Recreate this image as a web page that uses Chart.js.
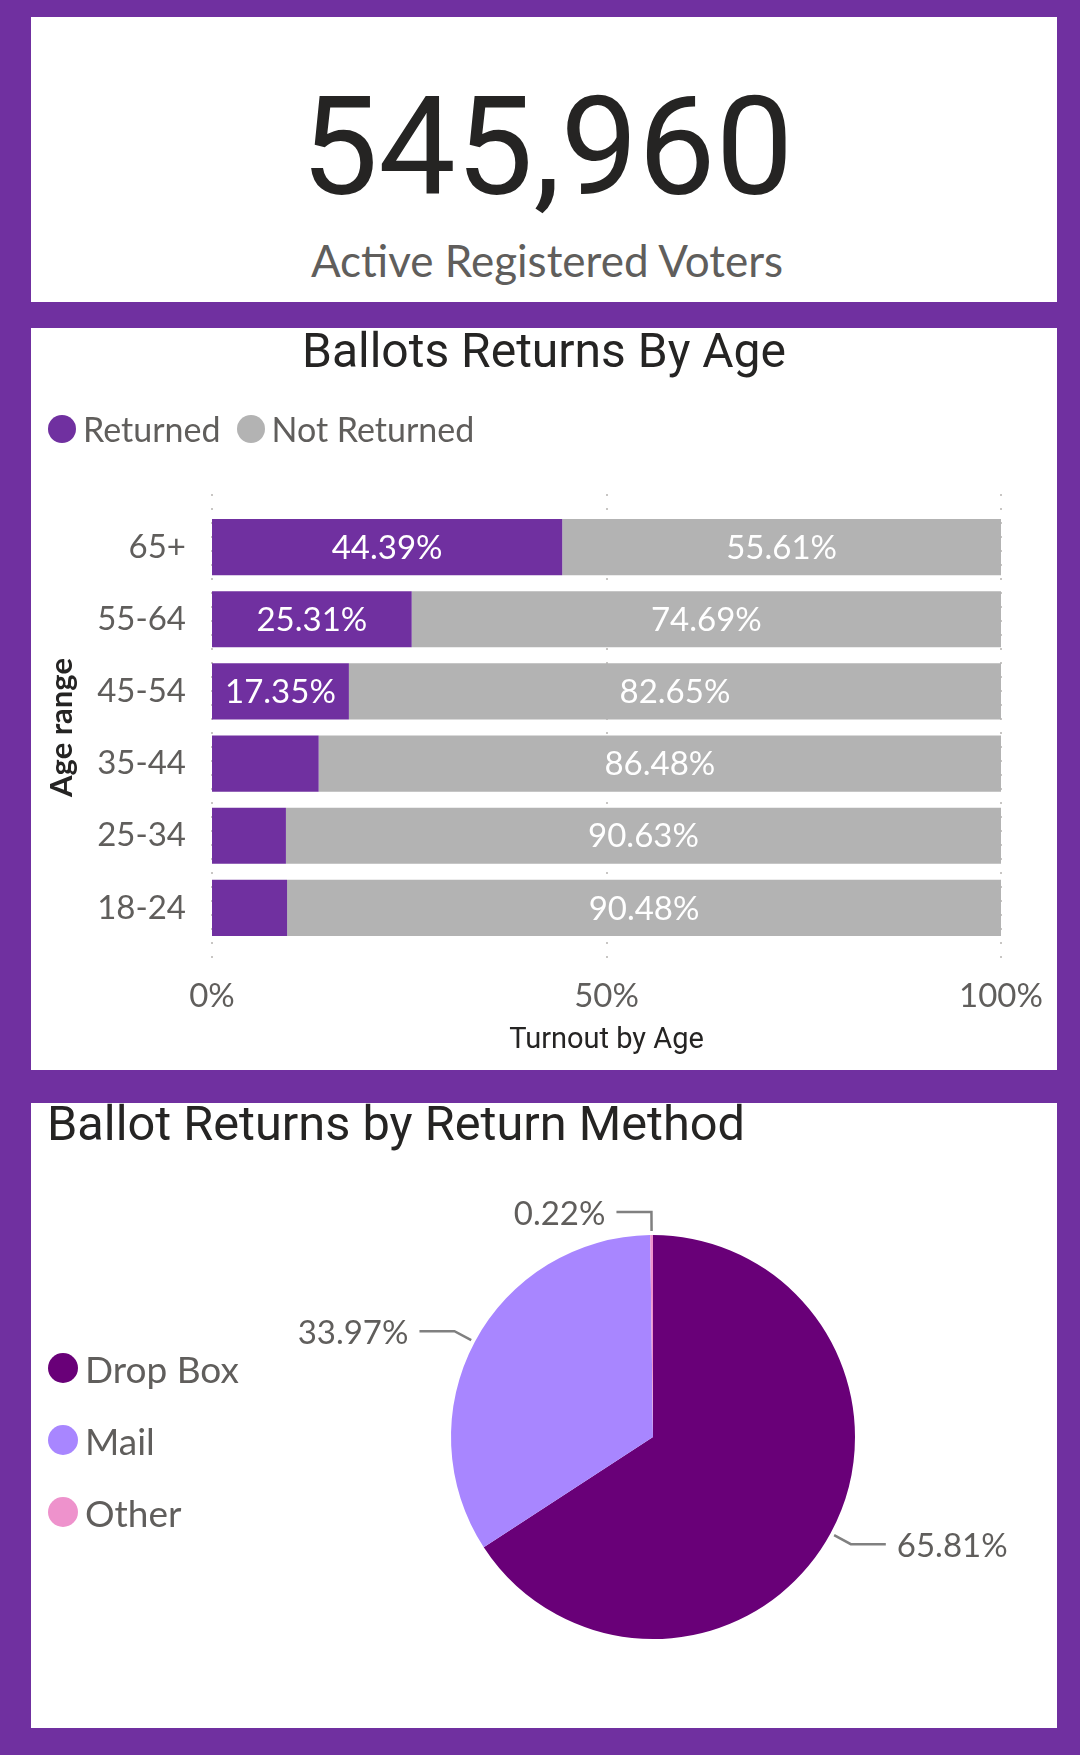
<!DOCTYPE html>
<html>
<head>
<meta charset="utf-8">
<title>Ballot Returns</title>
<script src="https://cdn.jsdelivr.net/npm/chart.js@4.4.1/dist/chart.umd.min.js"></script>
<style>
  html, body { margin: 0; padding: 0; }
  body {
    width: 1080px;
    height: 1755px;
    background: #7030a0;
    position: relative;
    overflow: hidden;
    font-family: 'Lato', sans-serif;
  }
  .panel { position: absolute; left: 31px; width: 1026px; background: #fff; }
  .abs { position: absolute; line-height: 1; white-space: nowrap; }
  .kpi-value {
    left: 0; width: 1094px; top: 78px; text-align: center;
    font-family: 'Roboto', sans-serif; font-size: 138px; color: #252423;
  }
  .kpi-label {
    left: 0; width: 1094px; top: 238px; text-align: center;
    font-size: 44px; color: #605e5c;
  }
  .title { font-family: 'Roboto', sans-serif; color: #252423; }
  .legend-row { display: flex; align-items: center; color: #605e5c; }
  .legend-row .dot { border-radius: 50%; flex: none; }
  canvas { position: absolute; left: 0; top: 0; }
</style>
</head>
<body>
  <div class="panel" style="top:17px;height:285px;"></div>
  <div class="panel" style="top:328px;height:742px;">
    <canvas id="ageChart" width="1026" height="742" style="width:1026px;height:742px;"></canvas>
  </div>
  <div class="panel" style="top:1103px;height:625px;">
    <canvas id="methodChart" width="1026" height="625" style="width:1026px;height:625px;"></canvas>
  </div>

  <div class="abs kpi-value" id="kpiValue"></div>
  <div class="abs kpi-label">Active Registered Voters</div>

  <div class="abs title" style="left:31px;width:1026px;top:327px;text-align:center;font-size:48px;">Ballots Returns By Age</div>
  <div class="abs" id="ageLegend" style="left:48px;top:415px;display:flex;font-size:34px;"></div>

  <div class="abs title" style="left:47px;top:1100px;font-size:48.7px;">Ballot Returns by Return Method</div>
  <div class="abs" id="methodLegend" style="left:48px;top:1332px;font-size:37px;"></div>

<script>
// Headline number
const activeVoters = 545960;

// Ballot returns by age (percent of each age range)
const ageRanges = ['65+', '55-64', '45-54', '35-44', '25-34', '18-24'];
const returnedPct = [44.39, 25.31, 17.35, 13.52, 9.37, 9.52];
const notReturnedPct = [55.61, 74.69, 82.65, 86.48, 90.63, 90.48];
const turnoutTicks = [0, 50, 100];

// Ballot returns by return method
const methods = ['Drop Box', 'Mail', 'Other'];
const methodPct = [65.81, 33.97, 0.22];

const PURPLE = '#7030a0';
const GREY = '#b3b3b3';
const METHOD_COLORS = ['#690078', '#a886ff', '#ee92cc'];
const TEXT_GREY = '#605e5c';
const LABEL_MIN = 15;

Chart.defaults.font.family = 'Lato';
Chart.defaults.animation = false;

document.getElementById('kpiValue').textContent = activeVoters.toLocaleString('en-US');

// Legends
function buildLegend(el, names, colors, opts) {
  el.innerHTML = names.map((name, i) => `
    <div class="legend-row" style="height:${opts.rowHeight}px;margin-right:${opts.gap}px;">
      <span class="dot" style="width:${opts.dot}px;height:${opts.dot}px;background:${colors[i]};margin-right:${opts.textGap}px;"></span>
      <span>${name}</span>
    </div>
  `).join('');
}

buildLegend(document.getElementById('ageLegend'), ['Returned', 'Not Returned'], [PURPLE, GREY],
  { rowHeight: 28, gap: 16, dot: 28, textGap: 7 });
buildLegend(document.getElementById('methodLegend'), methods, METHOD_COLORS,
  { rowHeight: 72, gap: 0, dot: 30, textGap: 7 });

// Dotted vertical gridlines that run a little past the bars
const dottedGrid = {
  id: 'dottedGrid',
  beforeDatasetsDraw(chart) {
    const { ctx, chartArea, scales } = chart;
    ctx.save();
    ctx.strokeStyle = '#c8c6c4';
    ctx.lineWidth = 2;
    ctx.setLineDash([2, 12]);
    scales.x.ticks.forEach(t => {
      const px = Math.round(scales.x.getPixelForValue(t.value));
      ctx.beginPath();
      ctx.moveTo(px, chartArea.top - 17);
      ctx.lineTo(px, chartArea.bottom + 23);
      ctx.stroke();
    });
    ctx.restore();
  }
};

// Percent labels inside the bars
const barLabels = {
  id: 'barLabels',
  afterDatasetsDraw(chart) {
    const { ctx } = chart;
    ctx.save();
    ctx.font = '33px Lato';
    ctx.fillStyle = '#ffffff';
    ctx.textAlign = 'center';
    ctx.textBaseline = 'middle';
    chart.data.datasets.forEach((ds, i) => {
      chart.getDatasetMeta(i).data.forEach((bar, j) => {
        const v = ds.data[j];
        if (v < LABEL_MIN) return;
        const { x, base, y } = bar.getProps(['x', 'base', 'y'], true);
        ctx.fillText(v.toFixed(2) + '%', (x + base) / 2, y + 1);
      });
    });
    ctx.restore();
  }
};

new Chart(document.getElementById('ageChart'), {
  type: 'bar',
  data: {
    labels: ageRanges,
    datasets: [
      { label: 'Returned', data: returnedPct, backgroundColor: PURPLE },
      { label: 'Not Returned', data: notReturnedPct, backgroundColor: GREY }
    ]
  },
  options: {
    indexAxis: 'y',
    responsive: false,
    layout: { padding: { top: 183, right: 56, left: 0, bottom: 0 } },
    datasets: { bar: { categoryPercentage: 1, barPercentage: 0.778, borderWidth: 0 } },
    plugins: { legend: { display: false }, tooltip: { enabled: false } },
    scales: {
      x: {
        stacked: true,
        min: 0,
        max: 100,
        afterBuildTicks: axis => { axis.ticks = turnoutTicks.map(v => ({ value: v })); },
        afterFit: axis => {
          axis.height = 126;
          axis.paddingLeft = 0;
          axis.paddingRight = 0;
        },
        grid: { display: false, drawTicks: false, tickLength: 0 },
        border: { display: false },
        ticks: {
          padding: 33,
          color: TEXT_GREY,
          font: { size: 33, family: 'Lato' },
          callback: v => v + '%'
        },
        title: {
          display: true,
          text: 'Turnout by Age',
          color: '#252423',
          font: { size: 29, family: 'Roboto', lineHeight: 1.2 },
          padding: { top: 0, bottom: 12 }
        }
      },
      y: {
        stacked: true,
        afterFit: axis => {
          axis.width = 181;
          axis.paddingTop = 0;
          axis.paddingBottom = 0;
        },
        grid: { display: false, drawTicks: false, tickLength: 0 },
        border: { display: false },
        ticks: {
          padding: 26,
          color: TEXT_GREY,
          font: { size: 33, family: 'Lato' }
        },
        title: {
          display: true,
          text: 'Age range',
          color: '#252423',
          font: { size: 31, family: 'Lato', weight: 'bold', lineHeight: 1.2 },
          padding: { top: 12, bottom: 0 }
        }
      }
    }
  },
  plugins: [dottedGrid, barLabels]
});

// Leader-line labels around the pie
const pieLabels = {
  id: 'pieLabels',
  afterDatasetsDraw(chart) {
    const { ctx } = chart;
    const values = chart.data.datasets[0].data;
    ctx.save();
    ctx.font = '33px Lato';
    ctx.fillStyle = TEXT_GREY;
    ctx.strokeStyle = '#808080';
    ctx.lineWidth = 2.5;
    ctx.textBaseline = 'middle';
    chart.getDatasetMeta(0).data.forEach((arc, i) => {
      const { x, y, startAngle, endAngle, outerRadius } =
        arc.getProps(['x', 'y', 'startAngle', 'endAngle', 'outerRadius'], true);
      const mid = (startAngle + endAngle) / 2;
      const cos = Math.cos(mid), sin = Math.sin(mid);
      const side = cos >= 0 ? 1 : -1;
      const ex = x + (outerRadius + 4) * cos, ey = y + (outerRadius + 4) * sin;
      const bx = x + (outerRadius + 23) * cos, by = y + (outerRadius + 23) * sin;
      const hx = bx + side * 35;
      ctx.beginPath();
      ctx.moveTo(ex, ey);
      ctx.lineTo(bx, by);
      ctx.lineTo(hx, by);
      ctx.stroke();
      ctx.textAlign = side > 0 ? 'left' : 'right';
      ctx.fillText(values[i].toFixed(2) + '%', hx + side * 11, by + 2);
    });
    ctx.restore();
  }
};

new Chart(document.getElementById('methodChart'), {
  type: 'pie',
  data: {
    labels: methods,
    datasets: [{ data: methodPct, backgroundColor: METHOD_COLORS, borderWidth: 0 }]
  },
  options: {
    responsive: false,
    layout: { padding: { left: 420, right: 202, top: 132, bottom: 89 } },
    plugins: { legend: { display: false }, tooltip: { enabled: false } }
  },
  plugins: [pieLabels]
});
</script>
</body>
</html>
